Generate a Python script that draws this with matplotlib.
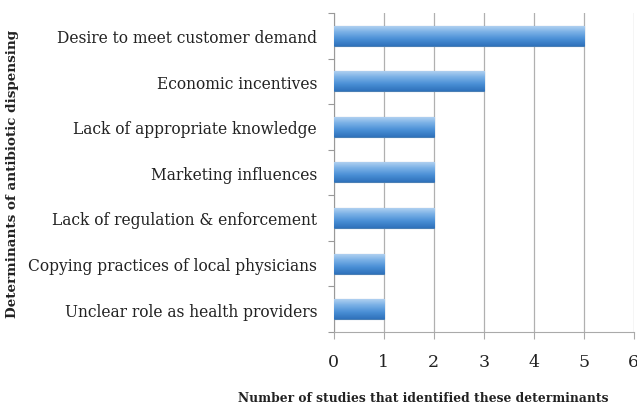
import numpy as np
import matplotlib
matplotlib.use("Agg")
import matplotlib.pyplot as plt
from matplotlib.colors import LinearSegmentedColormap

# data
categories = [
    "Desire to meet customer demand",
    "Economic incentives",
    "Lack of appropriate knowledge",
    "Marketing influences",
    "Lack of regulation & enforcement",
    "Copying practices of local physicians",
    "Unclear role as health providers",
]
counts = [5, 3, 2, 2, 2, 1, 1]
x_ticks = [0, 1, 2, 3, 4, 5, 6]

plt.rcParams["font.family"] = ["DejaVu Serif"]

fig = plt.figure(figsize=(6.37, 4.10), dpi=100)
ax = fig.add_axes([0.524, 0.188, 0.471, 0.778])

ypos = np.arange(len(categories))
bars = ax.barh(ypos, counts, height=0.44, color="#5b9bd5",
               edgecolor="#4a7fb5", linewidth=0.8, zorder=3)

# vertical gradient inside each bar
grad = LinearSegmentedColormap.from_list(
    "bar", ["#b8d5f2", "#79b0e6", "#4a8fd6", "#2f72bb"])
g = np.linspace(0, 1, 64).reshape(-1, 1)
for b in bars:
    x0, y0 = b.get_x(), b.get_y()
    w, h = b.get_width(), b.get_height()
    im = ax.imshow(g, cmap=grad, aspect="auto", zorder=3.5,
                   extent=(x0, x0 + w, y0 + h, y0), interpolation="bilinear")
    im.set_clip_path(b)

ax.set_xlim(0, 6)
ax.set_ylim(len(categories) - 0.5, -0.5)
ax.set_xticks(x_ticks)
ax.set_yticks(ypos)
ax.set_yticklabels(categories, fontsize=11.2, color="#222222")
ax.set_yticks(np.arange(-0.5, len(categories)), minor=True)
ax.tick_params(axis="y", which="major", length=0, pad=12)
ax.tick_params(axis="y", which="minor", length=4, color="#999999", width=0.8)
ax.tick_params(axis="x", length=5, labelsize=12.5, pad=10,
               colors="#222222")
ax.tick_params(axis="x", color="#aaaaaa")

ax.grid(axis="x", color="#b0b0b0", linewidth=0.9, zorder=0)
for s in ["top", "right"]:
    ax.spines[s].set_visible(False)
ax.spines["left"].set_color("#999999")
ax.spines["bottom"].set_color("#aaaaaa")

fig.text(0.664, 0.028, "Number of studies that identified these determinants",
         ha="center", va="center", fontsize=8.8, fontweight="bold",
         color="#222222")
fig.text(0.019, 0.576, "Determinants of antibiotic dispensing",
         ha="center", va="center", rotation=90, fontsize=9.7,
         fontweight="bold", color="#222222")

fig.savefig("out.png", dpi=100, facecolor="white")
